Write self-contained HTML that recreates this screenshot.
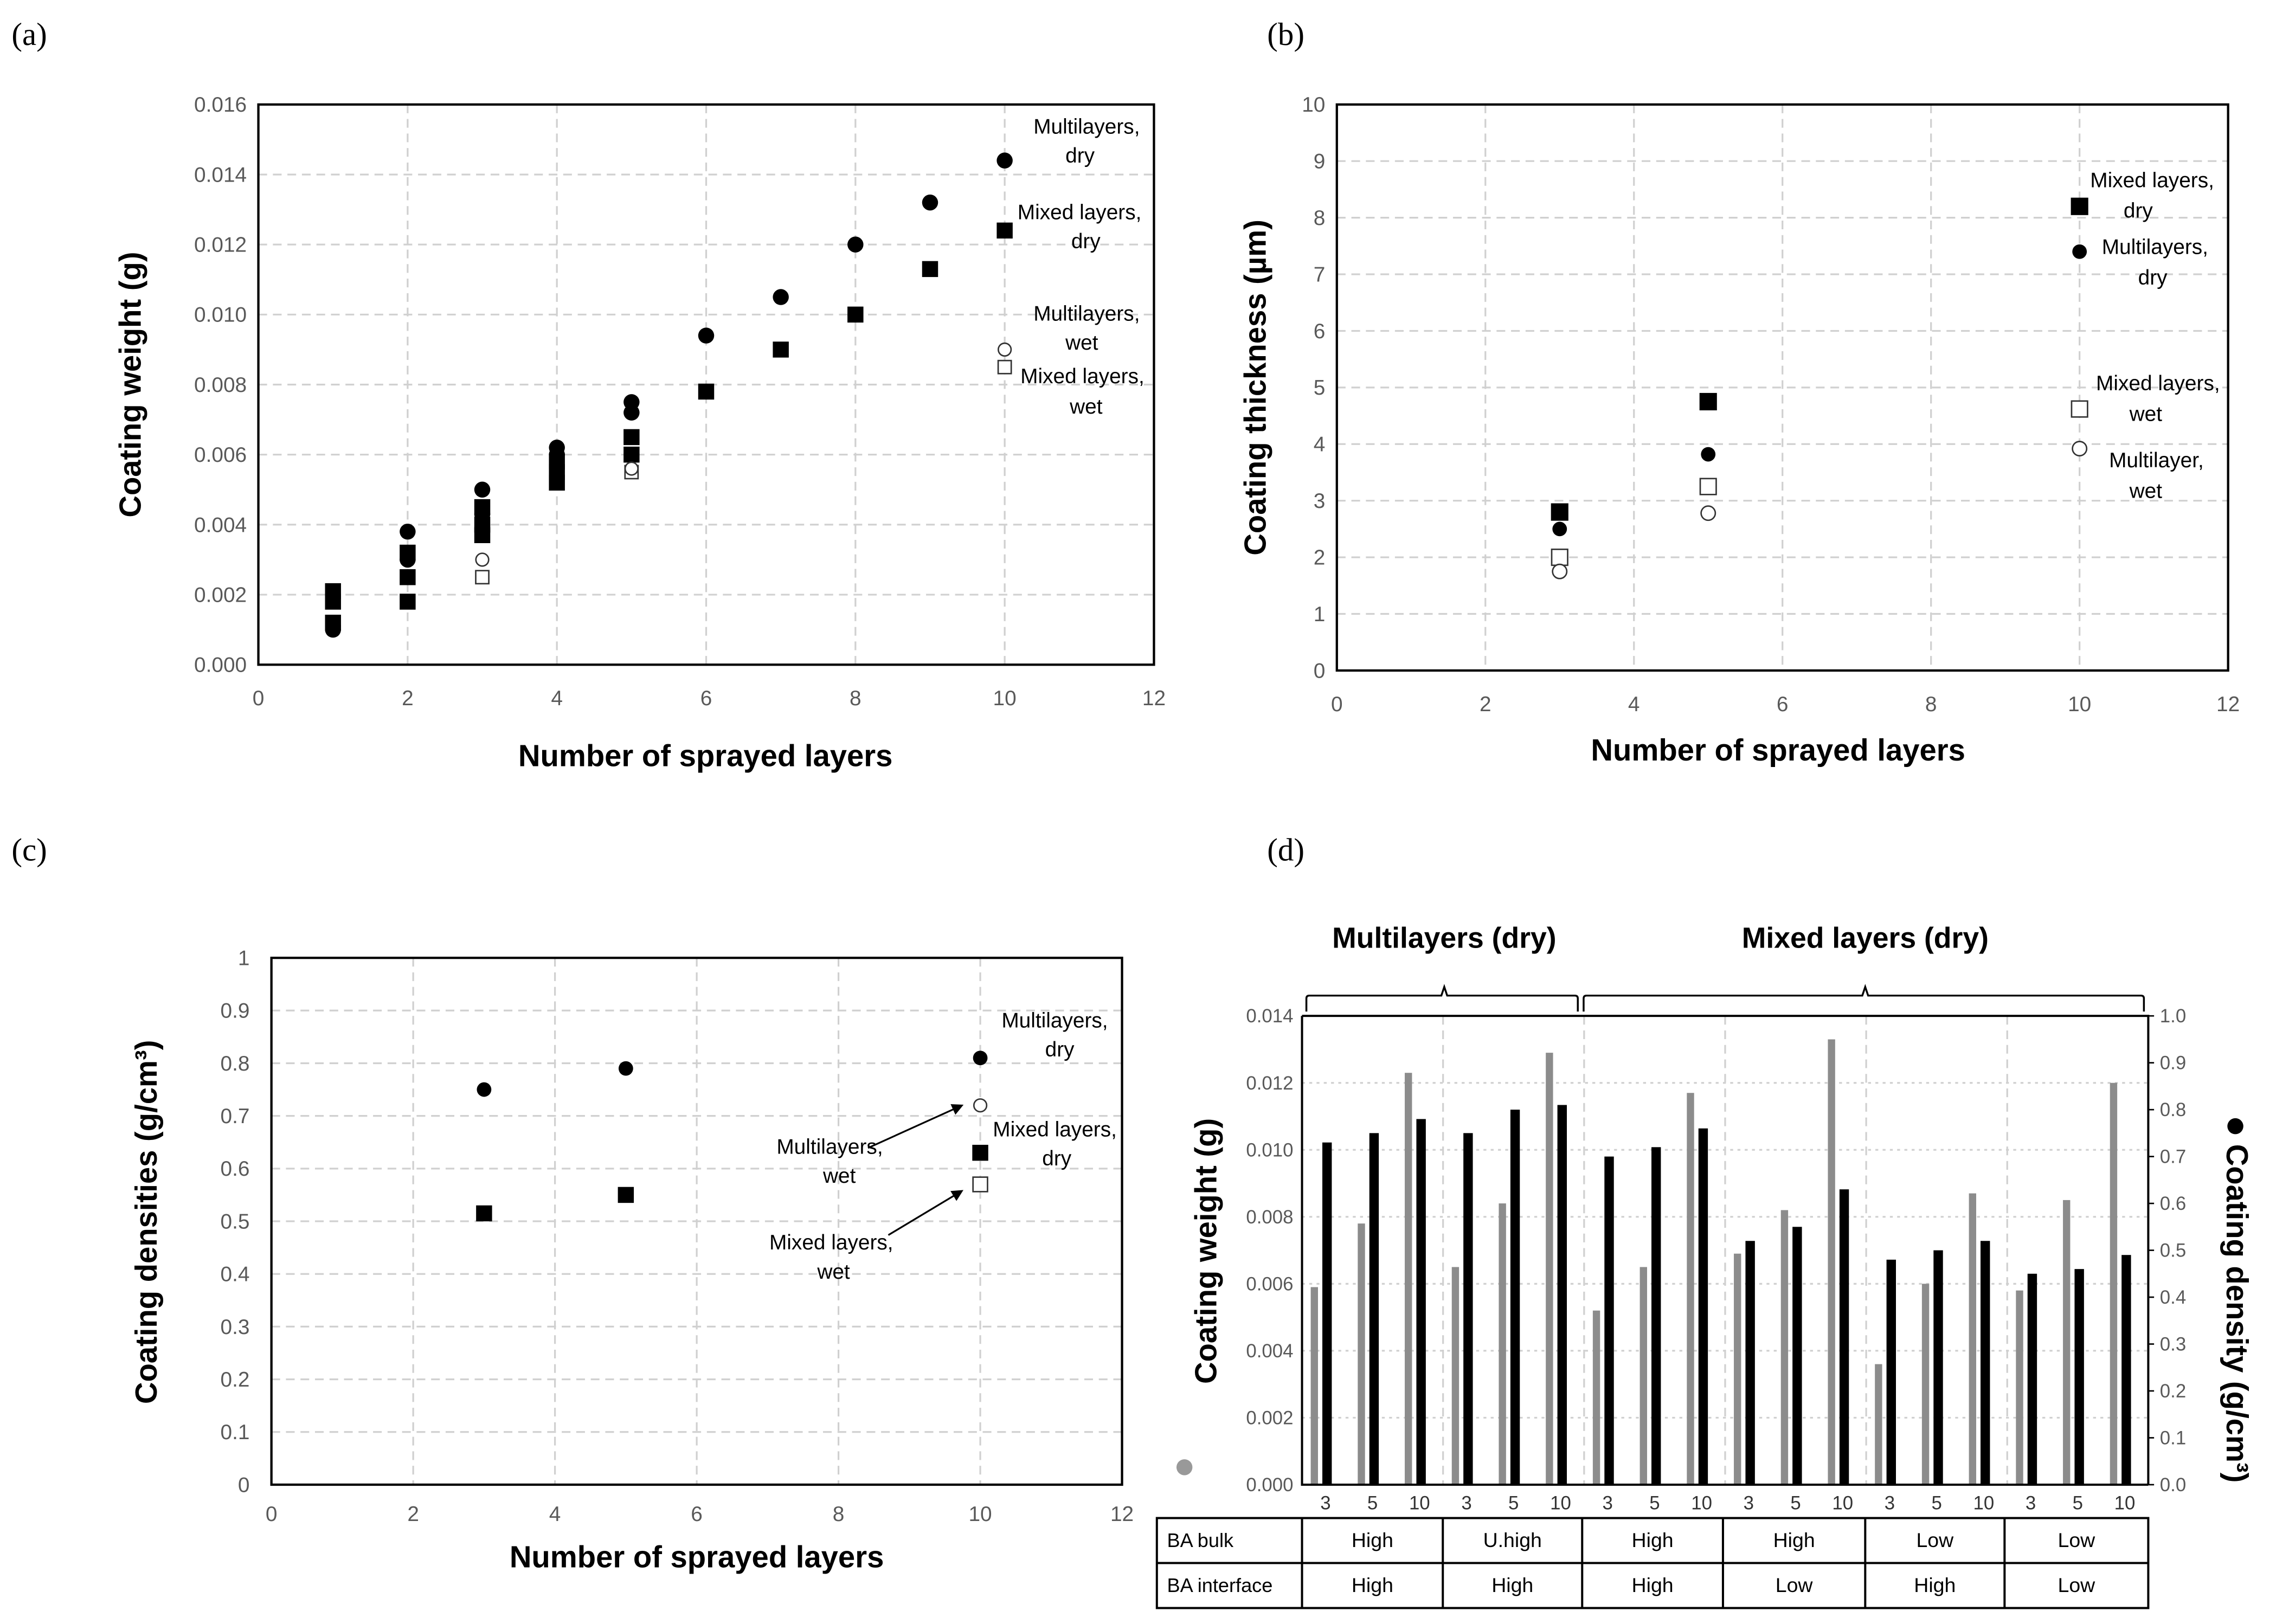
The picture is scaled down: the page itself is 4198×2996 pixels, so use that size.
<!DOCTYPE html>
<html><head><meta charset="utf-8">
<style>
html,body{margin:0;padding:0;background:#fff;}
svg{display:block;}
text{font-family:"Liberation Sans",sans-serif;}
.tick{fill:#595959;font-size:14.5px;}
.title{font-weight:bold;font-size:21px;fill:#000;}
.ann{font-size:14.5px;fill:#000;}
.plab{font-family:"Liberation Serif",serif;font-size:22px;}
</style></head>
<body>
<svg id="fig" width="4198" height="2996" viewBox="0 0 1568 1119" preserveAspectRatio="none" xmlns="http://www.w3.org/2000/svg"></svg>
<script>
// ---------- DATA ----------
// Panel (a)
const aMultiDryX=[1,1,2,2,3,3,4,4,5,5,6,7,8,9,10];
const aMultiDryY=[0.001,0.0011,0.0038,0.003,0.005,0.0043,0.0062,0.006,0.0075,0.0072,0.0094,0.0105,0.012,0.0132,0.0144];
const aMixDryX=[1,1,1,2,2,2,3,3,3,4,4,4,5,5,6,7,8,9,10];
const aMixDryY=[0.0021,0.0018,0.0012,0.0032,0.0025,0.0018,0.0045,0.004,0.0037,0.0058,0.0055,0.0052,0.0065,0.006,0.0078,0.009,0.01,0.0113,0.0124];
const aMultiWetX=[3,5,10];
const aMultiWetY=[0.003,0.0056,0.009];
const aMixWetX=[3,5,10];
const aMixWetY=[0.0025,0.0055,0.0085];
const aYTicks=["0.000","0.002","0.004","0.006","0.008","0.010","0.012","0.014","0.016"];
const xTicks=[0,2,4,6,8,10,12];
// Panel (b)
const bX=[3,5,10];
const bMixDry=[2.8,4.75,8.2];
const bMultiDry=[2.5,3.82,7.4];
const bMixWet=[2.0,3.25,4.62];
const bMultiWet=[1.75,2.78,3.92];
const bYTicks=[0,1,2,3,4,5,6,7,8,9,10];
// Panel (c)
const cX=[3,5,10];
const cMultiDry=[0.75,0.79,0.81];
const cMixDry=[0.515,0.55,0.63];
const cMultiWetX=[10];
const cMultiWet=[0.72];
const cMixWetX=[10];
const cMixWet=[0.57];
const cYTicks=["0","0.1","0.2","0.3","0.4","0.5","0.6","0.7","0.8","0.9","1"];
// Panel (d)
const dLayers=["3","5","10","3","5","10","3","5","10","3","5","10","3","5","10","3","5","10"];
const dWeight=[0.0059,0.0078,0.0123,0.0065,0.0084,0.0129,0.0052,0.0065,0.0117,0.0069,0.0082,0.0133,0.0036,0.0060,0.0087,0.0058,0.0085,0.0120];
const dDensity=[0.73,0.75,0.78,0.75,0.80,0.81,0.70,0.72,0.76,0.52,0.55,0.63,0.48,0.50,0.52,0.45,0.46,0.49];
const dLeftTicks=["0.000","0.002","0.004","0.006","0.008","0.010","0.012","0.014"];
const dRightTicks=["0.0","0.1","0.2","0.3","0.4","0.5","0.6","0.7","0.8","0.9","1.0"];
const dBulk=["High","U.high","High","High","Low","Low"];
const dInterface=["High","High","High","Low","High","Low"];

// ---------- HELPERS ----------
const NS="http://www.w3.org/2000/svg";
const fig=document.getElementById('fig');
function mk(tag,attrs,parent,txt){const e=document.createElementNS(NS,tag);for(const k in attrs)e.setAttribute(k,attrs[k]);if(txt!==undefined)e.textContent=txt;(parent||fig).appendChild(e);return e;}
function lin(d0,d1,p0,p1){return v=>p0+(v-d0)/(d1-d0)*(p1-p0);}

function frame(g,x0,x1,y0,y1){
  const f=mk('rect',{x:x0,y:y0,width:x1-x0,height:y1-y0,fill:'none',stroke:'#000','stroke-width':1.6},g);
  
  
}
function hgrid(g,y,x0,x1,dash){const l=mk('line',{x1:x0,x2:x1,y1:y,y2:y,stroke:'#d0d0d0','stroke-width':1.2,'stroke-dasharray':dash||'6,4'},g);
  
  }
function vgrid(g,x,y0,y1,dash){const l=mk('line',{x1:x,x2:x,y1:y0,y2:y1,stroke:'#d0d0d0','stroke-width':1.2,'stroke-dasharray':dash||'6,4'},g);
  
  }
function marker(g,kind,cx,cy,s){
  let e;
  if(kind==='fc'){e=mk('circle',{cx:cx,cy:cy,r:s,fill:'#000'},g);}
  else if(kind==='oc'){e=mk('circle',{cx:cx,cy:cy,r:s-0.6,fill:'#fff',stroke:'#333','stroke-width':1},g);}
  else if(kind==='fs'){e=mk('rect',{x:cx-s,y:cy-s,width:2*s,height:2*s,fill:'#000'},g);}
  else {e=mk('rect',{x:cx-s+0.5,y:cy-s+0.5,width:2*s-1,height:2*s-1,fill:'#fff',stroke:'#333','stroke-width':1},g);}
  
  
  return e;
}
function txt(g,x,y,s,cls,anchor,extra){const a=Object.assign({x:x,y:y,class:cls,'text-anchor':anchor||'start'},extra||{});const t=mk('text',a,g,s);return t;}

// ---------- PANEL A ----------
(function(){
  const g=mk('g',{});
  
  
  const X=lin(0,12,178,795), Y=lin(0,0.016,458,72);
  aYTicks.forEach((t,i)=>{const v=parseFloat(t);if(v>0)hgrid(g,Y(v),178,795);
    const tl=txt(g,170,Y(v)+5,t,'tick','end');
    
    });
  xTicks.forEach(v=>{if(v>0&&v<12)vgrid(g,X(v),72,458);
    const tl=txt(g,X(v),486,String(v),'tick','middle');
    
    });
  frame(g,178,795,72,458);
  aMixDryX.forEach((x,i)=>marker(g,'fs',X(x),Y(aMixDryY[i]),5.5));
  aMultiDryX.forEach((x,i)=>marker(g,'fc',X(x),Y(aMultiDryY[i]),5.5));
  aMixWetX.forEach((x,i)=>marker(g,'os',X(x),Y(aMixWetY[i]),5));
  aMultiWetX.forEach((x,i)=>marker(g,'oc',X(x),Y(aMultiWetY[i]),5));
  const yl=txt(g,0,0,'Coating weight (g)','title','middle',{transform:'translate(97,265) rotate(-90)'});
  
  
  const xl=txt(g,486,528,'Number of sprayed layers','title','middle');
  
  
  [['Multilayers,',712,92],['dry',734,112],['Mixed layers,',701,151],['dry',738,171],['Multilayers,',712,221],['wet',734,241],['Mixed layers,',703,264],['wet',737,285]].forEach(a=>{
    const t=txt(g,a[1],a[2],a[0],'ann');
    
    });
  const p=txt(g,8,31,'(a)','plab');
  
  
})();

// ---------- PANEL B ----------
(function(){
  const g=mk('g',{});
  
  
  const X=lin(0,12,921,1535), Y=lin(0,10,462,72);
  bYTicks.forEach(v=>{if(v>0)hgrid(g,Y(v),921,1535);
    const tl=txt(g,913,Y(v)+5,String(v),'tick','end');
    
    });
  xTicks.forEach(v=>{if(v>0&&v<12)vgrid(g,X(v),72,462);
    const tl=txt(g,X(v),490,String(v),'tick','middle');
    
    });
  frame(g,921,1535,72,462);
  bX.forEach((x,i)=>marker(g,'fs',X(x),Y(bMixDry[i]),6));
  bX.forEach((x,i)=>marker(g,'fc',X(x),Y(bMultiDry[i]),5));
  bX.forEach((x,i)=>marker(g,'os',X(x),Y(bMixWet[i]),6));
  bX.forEach((x,i)=>marker(g,'oc',X(x),Y(bMultiWet[i]),5.5));
  const yl=txt(g,0,0,'Coating thickness (µm)','title','middle',{transform:'translate(872,267) rotate(-90)'});
  
  
  const xl=txt(g,1225,524,'Number of sprayed layers','title','middle');
  
  
  [['Mixed layers,',1440,129],['dry',1463,150],['Multilayers,',1448,175],['dry',1473,196],['Mixed layers,',1444,269],['wet',1467,290],['Multilayer,',1453,322],['wet',1467,343]].forEach(a=>{
    const t=txt(g,a[1],a[2],a[0],'ann');
    
    });
  const p=txt(g,873,31,'(b)','plab');
  
  
})();

// ---------- PANEL C ----------
(function(){
  const g=mk('g',{});
  
  
  const X=lin(0,12,187,773), Y=lin(0,1,1023,660);
  cYTicks.forEach(t=>{const v=parseFloat(t);if(v>0)hgrid(g,Y(v),187,773);
    const tl=txt(g,172,Y(v)+5,t,'tick','end');
    
    });
  xTicks.forEach(v=>{if(v>0&&v<12)vgrid(g,X(v),660,1023);
    const tl=txt(g,X(v),1048,String(v),'tick','middle');
    
    });
  frame(g,187,773,660,1023);
  cX.forEach((x,i)=>marker(g,'fc',X(x),Y(cMultiDry[i]),5));
  cX.forEach((x,i)=>marker(g,'fs',X(x),Y(cMixDry[i]),5.5));
  cMultiWetX.forEach((x,i)=>marker(g,'oc',X(x),Y(cMultiWet[i]),5));
  cMixWetX.forEach((x,i)=>marker(g,'os',X(x),Y(cMixWet[i]),5.5));
  const yl=txt(g,0,0,'Coating densities (g/cm³)','title','middle',{transform:'translate(108,842) rotate(-90)'});
  
  
  const xl=txt(g,480,1080,'Number of sprayed layers','title','middle');
  
  
  [['Multilayers,',690,708],['dry',720,728],['Mixed layers,',684,783],['dry',718,803],['Multilayers,',535,795],['wet',567,815],['Mixed layers,',530,861],['wet',563,881]].forEach(a=>{
    const t=txt(g,a[1],a[2],a[0],'ann');
    
    });
  const defs=mk('defs',{},g);
  const m=mk('marker',{id:'arr',markerWidth:8,markerHeight:8,refX:6,refY:4,orient:'auto',markerUnits:'userSpaceOnUse'},defs);
  mk('path',{d:'M0,0 L8,4 L0,8 z',fill:'#000'},m);
  const a1=mk('line',{x1:598,y1:791,x2:662,y2:762,stroke:'#000','stroke-width':1.2,'marker-end':'url(#arr)'},g);
  
  
  const a2=mk('line',{x1:612,y1:851,x2:662,y2:821,stroke:'#000','stroke-width':1.2,'marker-end':'url(#arr)'},g);
  
  
  const p=txt(g,8,593,'(c)','plab');
  
  
})();

// ---------- PANEL D ----------
(function(){
  const g=mk('g',{});
  
  
  const L=897,R=1480,T=700,B=1023;
  const YW=lin(0,0.014,B,T), YD=lin(0,1,B,T);
  const gw=(R-L)/dLayers.length;
  dLeftTicks.forEach(t=>{const v=parseFloat(t);if(v>0&&v<0.014)hgrid(g,YW(v),L,R,'2,3');
    const tl=txt(g,L-6,YW(v)+4.5,t,'tick','end',{style:'font-size:13px'});
    
    });
  dRightTicks.forEach(t=>{const v=parseFloat(t);
    const tl=txt(g,R+8,YD(v)+4.5,t,'tick','start',{style:'font-size:13px'});
    
    
    const tk=mk('line',{x1:R,x2:R+4,y1:YD(v),y2:YD(v),stroke:'#000','stroke-width':1},g);
    
    });
  for(let k=3;k<dLayers.length;k+=3){vgrid(g,L+k*gw,T,B,'6,4');}
  dLayers.forEach((lab,i)=>{
    const x0=L+i*gw;
    const gb=mk('rect',{x:x0+6,y:YW(dWeight[i]),width:5,height:B-YW(dWeight[i]),fill:'#8c8c8c'},g);
    
    
    const bb=mk('rect',{x:x0+14,y:YD(dDensity[i]),width:6.5,height:B-YD(dDensity[i]),fill:'#000'},g);
    
    
    const tl=txt(g,x0+gw/2,1040,lab,'tick','middle',{style:'font-size:13px;fill:#333'});
    
    
  });
  const ax=mk('path',{d:`M${L},${T} L${R},${T} L${R},${B} M${L},${T} L${L},${B} L${R},${B}`,fill:'none',stroke:'#000','stroke-width':1.5},g);
  
  
  const br1=mk('path',{d:'M900,697 L900,688 Q900,686 902,686 L993,686 L995,680 L997,686 L1085,686 Q1087,686 1087,688 L1087,697',fill:'none',stroke:'#000','stroke-width':1.3},g);
  
  
  const br2=mk('path',{d:'M1091,697 L1091,688 Q1091,686 1093,686 L1283,686 L1285,680 L1287,686 L1475,686 Q1477,686 1477,688 L1477,697',fill:'none',stroke:'#000','stroke-width':1.3},g);
  
  
  const h1=txt(g,995,653,'Multilayers (dry)','title','middle',{style:'font-size:20px'});
  
  
  const h2=txt(g,1285,653,'Mixed layers (dry)','title','middle',{style:'font-size:20px'});
  
  
  const yl=txt(g,0,0,'Coating weight (g)','title','middle',{transform:'translate(838,862) rotate(-90)'});
  
  
  const dot1=mk('circle',{cx:816,cy:1011,r:5.5,fill:'#999'},g);
  
  
  const dot2=mk('circle',{cx:1540,cy:776,r:5.5,fill:'#000'},g);
  
  
  const yr=txt(g,0,0,'Coating density (g/cm³)','title','middle',{transform:'translate(1534,905) rotate(90)'});
  
  
  const cols=[797,897,994,1090,1187,1285,1381,1480];
  const tb=mk('g',{},g);
  
  
  mk('rect',{x:797,y:1046,width:683,height:62,fill:'none',stroke:'#000','stroke-width':1.5},tb);
  mk('line',{x1:797,x2:1480,y1:1077,y2:1077,stroke:'#000','stroke-width':1.5},tb);
  cols.slice(1,-1).forEach(c=>mk('line',{x1:c,x2:c,y1:1046,y2:1108,stroke:'#000','stroke-width':1.5},tb));
  const r1=txt(tb,804,1066,'BA bulk','ann',null,{style:'font-size:13.5px'});
  
  
  const r2=txt(tb,804,1097,'BA interface','ann',null,{style:'font-size:13.5px'});
  
  
  dBulk.forEach((s,i)=>{const t=txt(tb,(cols[i+1]+cols[i+2])/2,1066,s,'ann','middle',{style:'font-size:14px'});
    
    });
  dInterface.forEach((s,i)=>{const t=txt(tb,(cols[i+1]+cols[i+2])/2,1097,s,'ann','middle',{style:'font-size:14px'});
    
    });
  const p=txt(g,873,593,'(d)','plab');
  
  
})();
</script>
</body></html>
